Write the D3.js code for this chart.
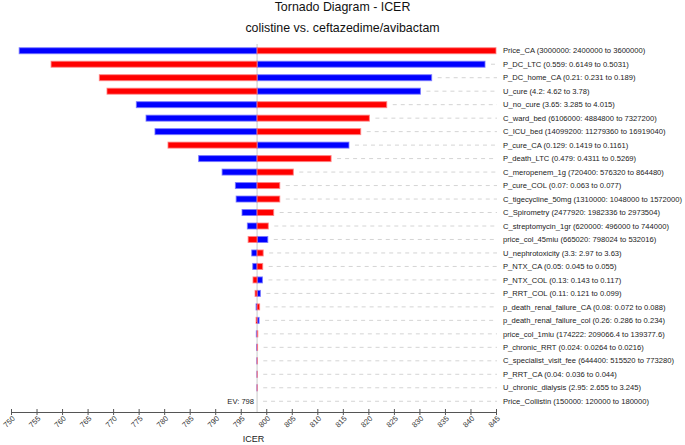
<!DOCTYPE html>
<html>
<head>
<meta charset="utf-8">
<script src="https://cdn.jsdelivr.net/npm/d3@7"></script>
<style>
  html, body { margin: 0; padding: 0; background: #fff; }
  svg { display: block; font-family: "Liberation Sans", Arial, sans-serif; }
</style>
</head>
<body>
<svg id="chart" width="685" height="445"></svg>
<script>
// ---- data ----
const titleText = "Tornado Diagram - ICER";
const subtitleText = "colistine vs. ceftazedime/avibactam";
const axisTitle = "ICER";
const expectedValue = 798.2;
const evLabel = "EV: 798";

const labels = [
  "Price_CA (3000000: 2400000 to 3600000)",
  "P_DC_LTC (0.559: 0.6149 to 0.5031)",
  "P_DC_home_CA (0.21: 0.231 to 0.189)",
  "U_cure (4.2: 4.62 to 3.78)",
  "U_no_cure (3.65: 3.285 to 4.015)",
  "C_ward_bed (6106000: 4884800 to 7327200)",
  "C_ICU_bed (14099200: 11279360 to 16919040)",
  "P_cure_CA (0.129: 0.1419 to 0.1161)",
  "P_death_LTC (0.479: 0.4311 to 0.5269)",
  "C_meropenem_1g (720400: 576320 to 864480)",
  "P_cure_COL (0.07: 0.063 to 0.077)",
  "C_tigecycline_50mg (1310000: 1048000 to 1572000)",
  "C_Spirometry (2477920: 1982336 to 2973504)",
  "C_streptomycin_1gr (620000: 496000 to 744000)",
  "price_col_45miu (665020: 798024 to 532016)",
  "U_nephrotoxicity (3.3: 2.97 to 3.63)",
  "P_NTX_CA (0.05: 0.045 to 0.055)",
  "P_NTX_COL (0.13: 0.143 to 0.117)",
  "P_RRT_COL (0.11: 0.121 to 0.099)",
  "p_death_renal_failure_CA (0.08: 0.072 to 0.088)",
  "p_death_renal_failure_col (0.26: 0.286 to 0.234)",
  "price_col_1miu (174222: 209066.4 to 139377.6)",
  "P_chronic_RRT (0.024: 0.0264 to 0.0216)",
  "C_specialist_visit_fee (644400: 515520 to 773280)",
  "P_RRT_CA (0.04: 0.036 to 0.044)",
  "U_chronic_dialysis (2.95: 2.655 to 3.245)",
  "Price_Collistin (150000: 120000 to 180000)"
];

// ICER reached at the blue end and at the red end of each bar
const blueValues = [
  751.6, 842.85, 832.4, 830.2, 774.55, 776.45, 778.2, 816.2, 786.75,
  791.35, 793.95, 794.1, 795.25, 796.3, 800.3, 797.15, 797.35, 799.25,
  798.85, 798.0, 798.6, 798.05, 798.1, 798.15, 798.17, 798.17, 798.2
];
const redValues = [
  845.0, 757.85, 767.3, 768.8, 823.6, 820.2, 818.5, 780.75, 812.7,
  805.3, 802.65, 802.65, 801.45, 800.4, 796.45, 799.4, 799.3, 797.4,
  797.8, 798.7, 798.0, 798.35, 798.3, 798.25, 798.24, 798.23, 798.2
];

const tickValues = [750, 755, 760, 765, 770, 775, 780, 785, 790, 795,
  800, 805, 810, 815, 820, 825, 830, 835, 840, 845];

// ---- layout ----
const svg = d3.select("#chart");
const x = d3.scaleLinear().domain([750, 845]).range([11, 496]);
const y = d3.scaleBand().domain(d3.range(labels.length))
  .range([44, 408]).paddingInner(0.48).paddingOuter(0.24);
const rowY = i => y(i) + y.bandwidth() / 2;
const barH = 6;
const axisY = 412;
const labelX = 503;
const dashEnd = 497;

// titles
svg.append("text").attr("x", 342.5).attr("y", 11)
  .attr("text-anchor", "middle").attr("font-size", 12.4).attr("fill", "#111")
  .text(titleText);
svg.append("text").attr("x", 342.5).attr("y", 32)
  .attr("text-anchor", "middle").attr("font-size", 12.4).attr("fill", "#111")
  .text(subtitleText);

const rows = labels.map((l, i) => ({ i, label: l, blue: blueValues[i], red: redValues[i] }));

// dashed guide lines
svg.append("g").selectAll("line").data(rows).join("line")
  .attr("x1", d => Math.max(x(d.blue), x(d.red), x(expectedValue)) + 6)
  .attr("x2", dashEnd)
  .attr("y1", d => rowY(d.i)).attr("y2", d => rowY(d.i))
  .attr("stroke", "#d4d4d4").attr("stroke-width", 1)
  .attr("stroke-dasharray", "4,4")
  .style("display", d => (Math.max(x(d.blue), x(d.red), x(expectedValue)) + 6 < dashEnd) ? null : "none");

// center (EV) line
svg.append("line")
  .attr("x1", x(expectedValue)).attr("x2", x(expectedValue))
  .attr("y1", 44).attr("y2", axisY)
  .attr("stroke", "#c8c8c8").attr("stroke-width", 1);

// bars
const bars = svg.append("g");
function drawSide(key, fill, stroke) {
  bars.selectAll("rect." + key).data(rows).join("rect")
    .attr("class", key)
    .attr("x", d => Math.min(x(d[key]), x(expectedValue)))
    .attr("width", d => Math.abs(x(d[key]) - x(expectedValue)))
    .attr("y", d => rowY(d.i) - barH / 2)
    .attr("height", barH)
    .attr("fill", fill)
    .attr("stroke", stroke)
    .attr("stroke-width", 1)
    .style("display", d => Math.abs(x(d[key]) - x(expectedValue)) > 0.01 ? null : "none");
}
drawSide("blue", "#0000ff", "rgba(120,120,255,0.8)");
drawSide("red", "#ff0000", "rgba(255,130,130,0.8)");

// labels
svg.append("g").selectAll("text").data(rows).join("text")
  .attr("x", labelX).attr("y", d => rowY(d.i))
  .attr("dy", "0.35em").attr("font-size", 7.6).attr("fill", "#222")
  .text(d => d.label);

// EV label
svg.append("text")
  .attr("x", x(expectedValue) - 3).attr("y", rowY(labels.length - 1))
  .attr("dy", "0.35em").attr("text-anchor", "end")
  .attr("font-size", 7.6).attr("fill", "#222")
  .text(evLabel);

// axis
const axis = d3.axisBottom(x).tickValues(tickValues).tickFormat(d3.format("d")).tickSize(0);
const ag = svg.append("g").attr("transform", `translate(0,${axisY})`).call(axis);
ag.select(".domain").attr("stroke", "#555").attr("stroke-width", 1.2);
ag.selectAll(".tick line").attr("y1", -3).attr("y2", 3).attr("stroke", "#555").attr("stroke-width", 1);
ag.selectAll(".tick text")
  .attr("font-family", "Liberation Sans, Arial, sans-serif")
  .attr("font-size", 7.6).attr("fill", "#333")
  .attr("text-anchor", "end")
  .attr("dy", null).attr("y", 0)
  .attr("transform", "translate(4,7) rotate(-45)");

svg.append("text")
  .attr("x", (x.range()[0] + x.range()[1]) / 2).attr("y", 442)
  .attr("text-anchor", "middle").attr("font-size", 9).attr("fill", "#222")
  .text(axisTitle);
</script>
</body>
</html>
